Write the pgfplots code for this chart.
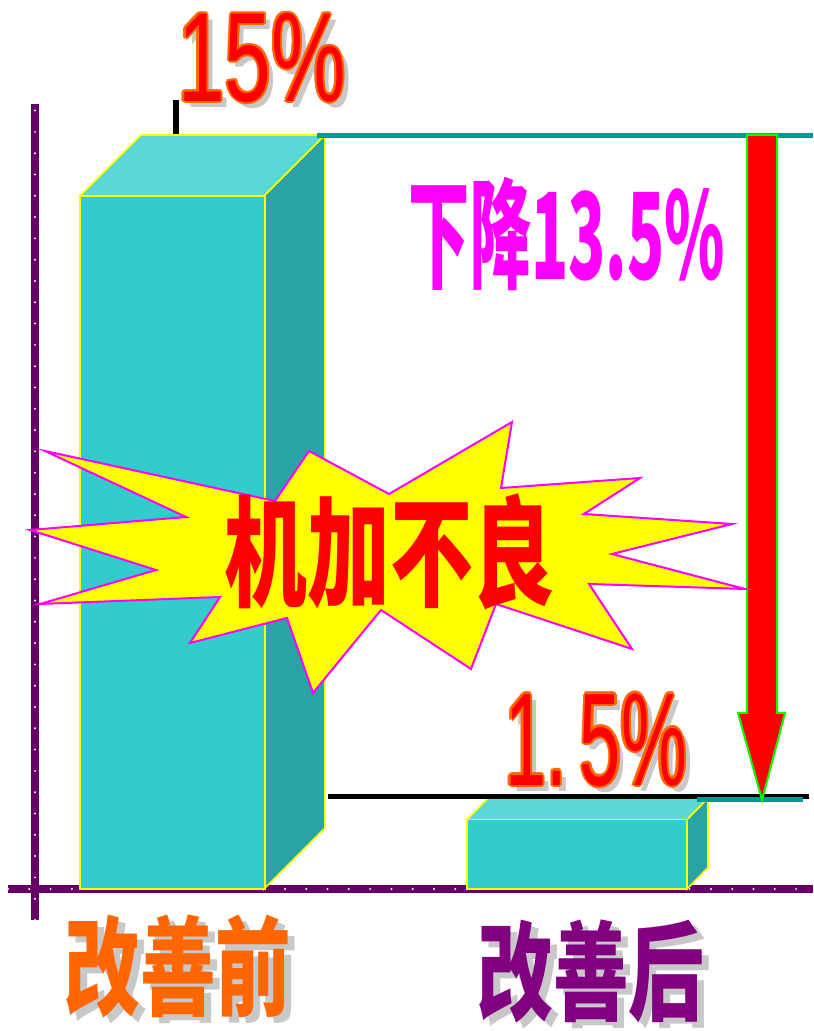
\documentclass[border=0pt]{standalone}
\usepackage{pgfplots}
\pgfplotsset{compat=1.18}
\usepackage{graphicx}
\usepackage{fontspec}
\setmainfont{Liberation Sans}
\newfontfamily\cjk{Noto Sans CJK SC}

\definecolor{front}{HTML}{33CCCC}
\definecolor{topf}{HTML}{5CD6D6}
\definecolor{side}{HTML}{29A3A3}
\definecolor{axpurple}{HTML}{660066}
\definecolor{teal2}{HTML}{009999}
\definecolor{shadowgray}{HTML}{C8C8C8}
\definecolor{outl}{HTML}{FF6600}
\definecolor{lblorange}{HTML}{FF6600}
\definecolor{lblpurple}{HTML}{800080}
\definecolor{pyellow}{HTML}{FFFF00}
\definecolor{pmagenta}{HTML}{FF00FF}
\definecolor{pred}{HTML}{FF0000}
\definecolor{pgreen}{HTML}{00FF00}

% text with grey shadow and a coloured rim: x, y, text, fill, rim, shadow dx, shadow dy
\newcommand\fancy[7]{%
  \node[text=shadowgray] at (#1+#6,#2+#7) {#3};
  \foreach \a in {0,45,...,315} \node[text=#5] at ([shift={(\a:2.2)}]#1,#2) {#3};
  \node[text=#4] at (#1,#2) {#3};}
% text with grey shadow only: x, y, text, fill, shadow dx, shadow dy
\newcommand\shadowed[6]{%
  \node[text=shadowgray] at (#1+#5,#2+#6) {#3};
  \node[text=#4] at (#1,#2) {#3};}

\begin{document}
\begin{tikzpicture}
\begin{axis}[
  x=0.5pt, y=23.1pt,
  xmin=-27, xmax=778, ymin=-0.671, ymax=16.99,
  axis lines=middle,
  axis line style={-, line width=4pt, axpurple,
    postaction={draw, white, line width=1.1pt, line cap=round, dash pattern=on 0pt off 10.65pt}},
  xtick=\empty, ytick=\empty,
  clip=false,
]
% before: 15 %
\addplot[fill=topf, draw=pyellow, line width=0.8pt] coordinates {(45,15) (106,16.32) (290,16.32) (229,15)} -- cycle;
\addplot[fill=side, draw=pyellow, line width=0.8pt] coordinates {(229,0) (290,1.32) (290,16.32) (229,15)} -- cycle;
\addplot[ybar, bar width=92.5pt, bar shift=0pt, fill=front, draw=pyellow, line width=0.8pt] coordinates {(137.5,15)};
% after: 1.5 %
\addplot[fill=topf, draw=pyellow, line width=0.8pt] coordinates {(432,1.5) (453,1.965) (673,1.965) (652,1.5)} -- cycle;
\addplot[fill=side, draw=pyellow, line width=0.8pt] coordinates {(652,0) (673,0.465) (673,1.965) (652,1.5)} -- cycle;
\addplot[ybar, bar width=110pt, bar shift=0pt, fill=front, draw=pyellow, line width=0.8pt] coordinates {(542,1.5)};
\coordinate (O) at (axis cs:-35,19.2424);
\end{axis}

\begin{scope}[shift={(O)}, x=0.5pt, y=-0.5pt, every node/.style={inner sep=0pt}]
\draw[black, line width=3pt] (176,100) -- (176,134);
\draw[teal2, line width=2.5pt] (317,136) -- (813,136);
\draw[black, line width=2.5pt] (328,797) -- (809,797);
\draw[teal2, line width=2.5pt] (697,799.5) -- (803,799.5);
\filldraw[fill=pred, draw=pgreen, line width=1pt] (747,135) -- (777,135) -- (777,713) -- (785,713)
  -- (762,800) -- (738,713) -- (747,713) -- cycle;

\filldraw[fill=pyellow, draw=pmagenta, line width=1pt] (45,451) -- (275,501) -- (309,451) -- (389,494)
  -- (512,422) -- (501,488) -- (640,478) -- (584,514) -- (732,524) -- (612,554) -- (745,589)
  -- (589,584) -- (632,649) -- (496,604) -- (471,669) -- (381,610) -- (313,693) -- (287,618)
  -- (190,643) -- (220,597) -- (40,604) -- (156,570) -- (30,530) -- (186,517) -- cycle;

\fancy{262}{58}{\fontsize{63.5}{64}\selectfont\scalebox{0.66}[1]{15\%}}{pred}{outl}{6}{6}
\fancy{596}{740}{\fontsize{66}{66}\selectfont\scalebox{0.56}[1]{1.\hspace{0.18em}5\%}}{pred}{outl}{6}{6}

\node[text=pmagenta] at (567,234) {\cjk\bfseries\fontsize{60}{60}\selectfont\scalebox{0.51}[1]{下降13.5\%}};
\node[text=pred] at (390,552) {\cjk\bfseries\fontsize{60}{60}\selectfont\scalebox{0.69}[1]{机加不良}};

\shadowed{178}{967}{\cjk\bfseries\fontsize{54}{54}\selectfont\scalebox{0.70}[1]{改善前}}{lblorange}{7}{6}
\shadowed{591}{972}{\cjk\bfseries\fontsize{54}{54}\selectfont\scalebox{0.70}[1]{改善后}}{lblpurple}{7}{6}

\pgfresetboundingbox
\path[use as bounding box] (0,0) rectangle (813,1031);
\end{scope}
\end{tikzpicture}
\end{document}
